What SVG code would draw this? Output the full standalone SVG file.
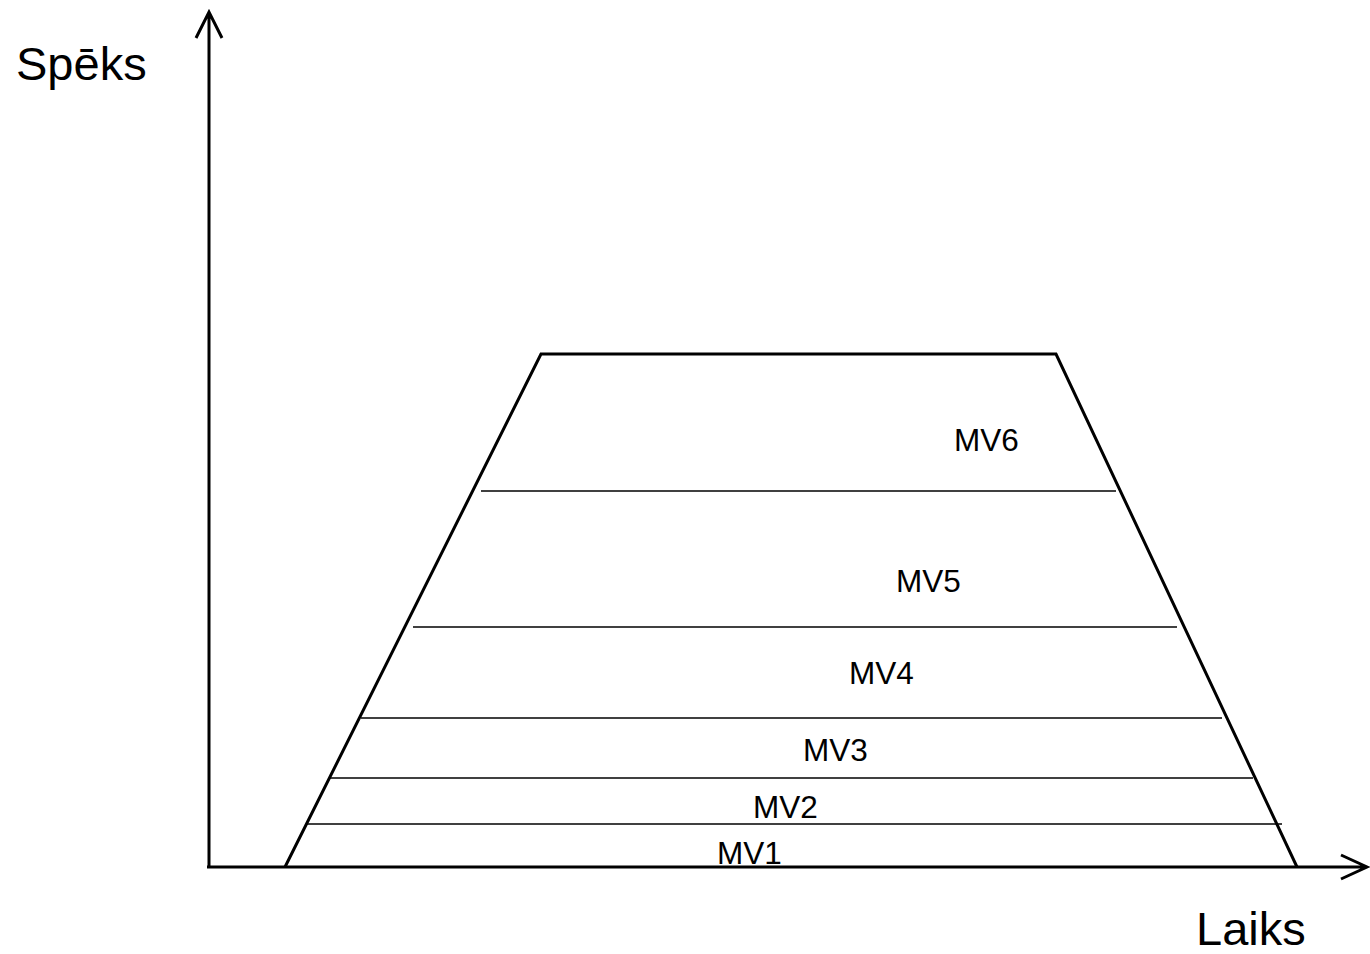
<svg xmlns="http://www.w3.org/2000/svg" width="1370" height="954" viewBox="0 0 1370 954">
<style>
.ax{stroke:#000;stroke-width:3;fill:none}
.lv{stroke:#000;stroke-width:1.6;fill:none}
.t{font-family:"Liberation Sans",Arial,sans-serif;fill:#000}
.lab{font-size:31.5px}
.big{font-size:47px}
</style>
<rect width="1370" height="954" fill="#fff"/>
<g id="connectors">
<path class="ax" d="M209,868 V12 M196,38 L209,12 L222,38"/>
<path class="ax" d="M207,867 H1367 M1341,855 L1367,867 L1341,879"/>
</g>
<g id="trapezoid">
<path class="ax" d="M285,867 L541,354 L1056,354 L1297,867"/>
</g>
<g id="levels">
<line class="lv" x1="481" y1="491" x2="1116" y2="491"/>
<line class="lv" x1="413" y1="627" x2="1177" y2="627"/>
<line class="lv" x1="361" y1="718" x2="1222" y2="718"/>
<line class="lv" x1="330" y1="778" x2="1253" y2="778"/>
<line class="lv" x1="307" y1="824" x2="1282" y2="824"/>
</g>
<g id="labels">
<text class="t lab" x="954" y="451">MV6</text>
<text class="t lab" x="896" y="592">MV5</text>
<text class="t lab" x="849" y="684">MV4</text>
<text class="t lab" x="803" y="761">MV3</text>
<text class="t lab" x="753" y="818">MV2</text>
<text class="t lab" x="717" y="864">MV1</text>
<text class="t big" x="16" y="80">Spēks</text>
<text class="t big" x="1196" y="945">Laiks</text>
</g>
</svg>
